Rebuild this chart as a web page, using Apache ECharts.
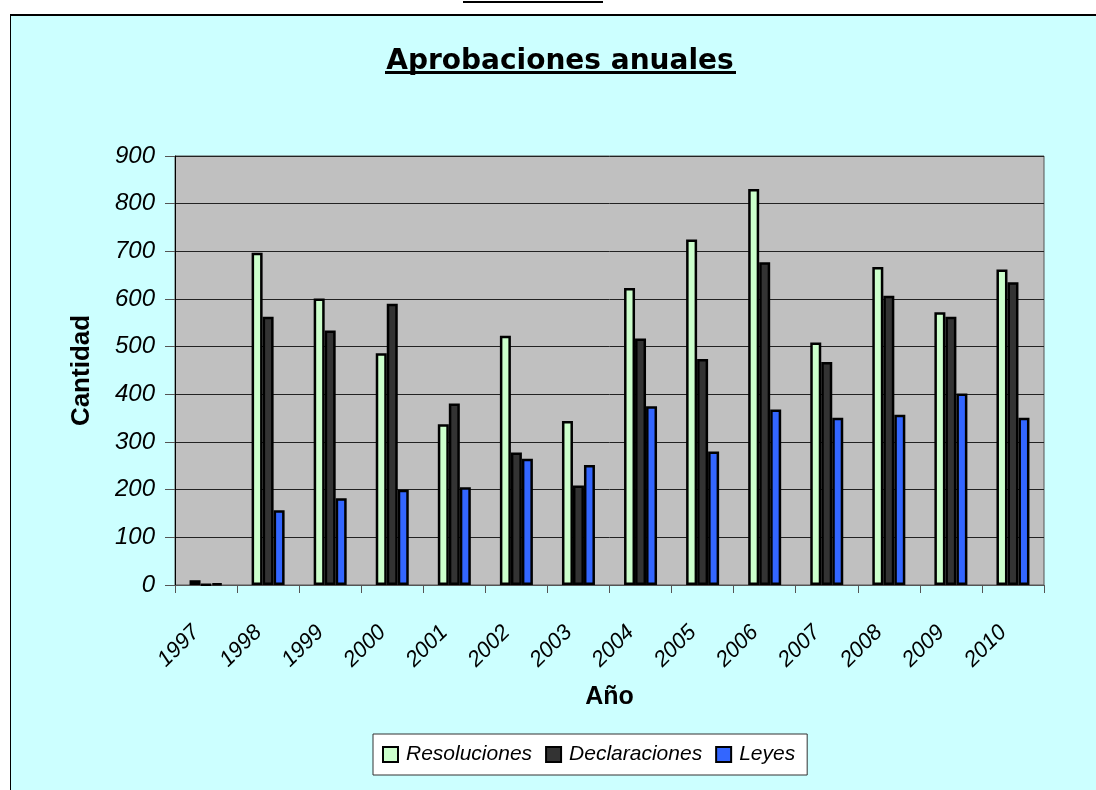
<!DOCTYPE html>
<html>
<head>
<meta charset="utf-8">
<script src="https://cdn.jsdelivr.net/npm/echarts@6/dist/echarts.min.js"></script>
<style>
html,body{margin:0;padding:0;background:#fff;}
#chart{width:1096px;height:790px;}
</style>
</head>
<body>
<div id="chart"></div>
<script>
var years = ['1997','1998','1999','2000','2001','2002','2003','2004','2005','2006','2007','2008','2009','2010'];
var resoluciones = [10, 697, 601, 486, 337, 523, 344, 623, 725, 831, 509, 667, 572, 662];
var declaraciones = [1, 563, 534, 590, 381, 278, 209, 517, 474, 677, 468, 607, 563, 635];
var leyes = [3, 157, 182, 200, 205, 265, 252, 375, 280, 368, 351, 357, 402, 351];
var yTicks = [0, 100, 200, 300, 400, 500, 600, 700, 800, 900];

var chart = echarts.init(document.getElementById('chart'));
var labelFont = 'Liberation Sans, Arial, sans-serif';
function barSeries(name, data, color) {
  return {
    name: name, type: 'bar', data: data,
    barWidth: 11, barGap: '0%',
    itemStyle: { color: color, borderColor: '#000', borderWidth: 2.5 },
    emphasis: { disabled: true }
  };
}
chart.setOption({
  animation: false,
  backgroundColor: '#CCFFFF',
  graphic: [
    { type: 'rect', shape: { x: 0, y: 0, width: 1096, height: 15 }, style: { fill: '#fff' }, silent: true },
    { type: 'rect', shape: { x: 0, y: 0, width: 10, height: 790 }, style: { fill: '#fff' }, silent: true },
    { type: 'rect', shape: { x: 10, y: 14, width: 1086, height: 2 }, style: { fill: '#000' }, silent: true },
    { type: 'rect', shape: { x: 10, y: 14, width: 1, height: 776 }, style: { fill: '#000' }, silent: true },
    { type: 'rect', shape: { x: 463, y: 1, width: 140, height: 2 }, style: { fill: '#000' }, silent: true },
    { type: 'rect', shape: { x: 385, y: 71, width: 351, height: 3 }, style: { fill: '#000' }, silent: true }
  ],
  title: {
    text: 'Aprobaciones anuales',
    left: 555, top: 43, textAlign: 'center',
    textStyle: { fontFamily: 'DejaVu Sans, Verdana, sans-serif', fontWeight: 'bold', fontSize: 28, color: '#000' }
  },
  legend: {
    left: 373, top: 734,
    backgroundColor: '#fff', borderColor: '#333', borderWidth: 1,
    padding: [10, 12, 10, 9],
    itemWidth: 15, itemHeight: 15, itemGap: 13,
    icon: 'rect',
    itemStyle: { borderColor: '#000', borderWidth: 2 },
    textStyle: { fontFamily: labelFont, fontStyle: 'italic', fontSize: 21, color: '#000', padding: [0, 0, 0, 3] },
    data: ['Resoluciones', 'Declaraciones', 'Leyes']
  },
  grid: {
    left: 175, right: 52, top: 156, bottom: 205,
    show: true, backgroundColor: '#C0C0C0', borderColor: '#555', borderWidth: 1
  },
  xAxis: {
    type: 'category', data: years,
    name: 'Año', nameLocation: 'middle', nameGap: 100,
    nameTextStyle: { fontFamily: labelFont, fontWeight: 'bold', fontSize: 25, color: '#000' },
    axisLine: { lineStyle: { color: '#555', width: 1 } },
    axisTick: { show: true, length: 8, lineStyle: { color: '#555' } },
    axisLabel: { rotate: 45, margin: 34, padding: [0, 14, 0, 0], fontFamily: labelFont, fontStyle: 'italic', fontSize: 22, color: '#000', interval: 0 }
  },
  yAxis: {
    type: 'value', min: yTicks[0], max: yTicks[yTicks.length - 1], interval: 100,
    name: 'Cantidad', nameLocation: 'middle', nameGap: 80, nameRotate: 90,
    nameTextStyle: { fontFamily: labelFont, fontWeight: 'bold', fontSize: 26, color: '#000' },
    axisLine: { show: true, lineStyle: { color: '#000', width: 1 } },
    axisTick: { show: true, length: 10, lineStyle: { color: '#555' } },
    axisLabel: { margin: 20, fontFamily: labelFont, fontStyle: 'italic', fontSize: 24, color: '#000' },
    splitLine: { show: true, lineStyle: { color: '#222', width: 1 } }
  },
  series: [
    barSeries('Resoluciones', resoluciones, '#CCFFCC'),
    barSeries('Declaraciones', declaraciones, '#333333'),
    barSeries('Leyes', leyes, '#3366FF')
  ]
});
</script>
</body>
</html>
